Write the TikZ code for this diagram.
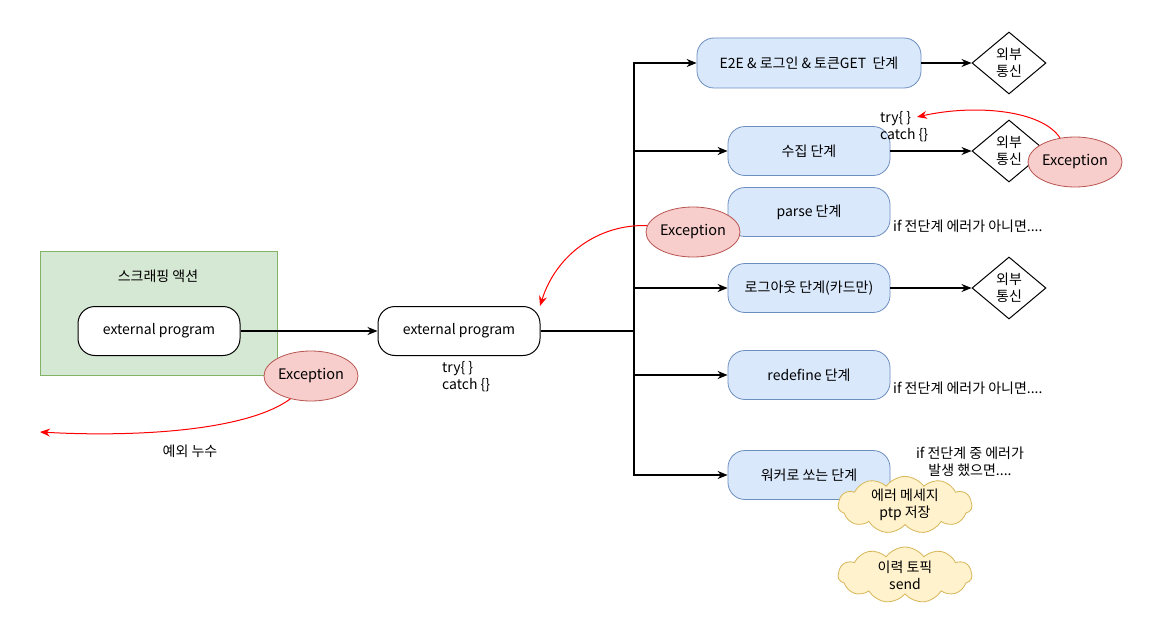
\documentclass[tikz,border=0pt]{standalone}
\usepackage{fontspec}
\setmainfont{Noto Sans CJK KR}
\usetikzlibrary{shapes.geometric,shapes.symbols,arrows.meta}
\definecolor{grfill}{HTML}{D5E8D4}
\definecolor{grline}{HTML}{82B366}
\definecolor{blfill}{HTML}{DAE8FC}
\definecolor{blline}{HTML}{6C8EBF}
\definecolor{rdfill}{HTML}{F8CECC}
\definecolor{rdline}{HTML}{B85450}
\definecolor{ylfill}{HTML}{FFF2CC}
\definecolor{ylline}{HTML}{D6B656}
\begin{document}
\begin{tikzpicture}[x=1pt,y=-1pt,
  font=\fontsize{14}{17}\selectfont,
  stagebox/.style={draw=blline, fill=blfill, rounded corners=17pt, minimum width=162pt, minimum height=49pt, inner sep=0pt, line width=0.8pt},
  progbox/.style={draw=black, fill=white, rounded corners=17pt, minimum width=162pt, minimum height=49pt, inner sep=0pt, line width=1pt},
  excnode/.style={ellipse, draw=rdline, fill=rdfill, minimum width=94pt, minimum height=50pt, inner sep=0pt, line width=0.8pt, font=\fontsize{14.5}{17}\selectfont},
  extnode/.style={diamond, draw=black, fill=white, minimum width=74pt, minimum height=62pt, inner sep=0pt, line width=1pt, align=center, font=\fontsize{14}{17}\selectfont},
  cloudnode/.style={cloud, cloud puffs=11, cloud puff arc=110, cloud ignores aspect, draw=ylline, fill=ylfill, minimum width=134pt, minimum height=56pt, inner sep=0pt, line width=0.8pt, align=center},
  conn/.style={line width=1.1pt, -{Stealth[length=10pt,width=8pt]}},
  redconn/.style={red, line width=1pt, -{Stealth[length=10pt,width=8pt]}},
  plain/.style={inner sep=0pt, align=left}
]
\useasboundingbox (0,0) rectangle (1149,634);

% green group
\node[draw=grline, fill=grfill, line width=0.8pt, minimum width=237pt, minimum height=124pt, inner sep=0pt] (grp) at (158.5,313) {};
\node[plain] (grptitle) at (158,276) {스크래핑 액션};
\node[progbox] (ext1) at (159,331) {external program};
\node[progbox] (ext2) at (459,331) {external program};
\node[plain, anchor=north west] (tc1) at (442,361) {try\{ \}\\catch \{\}};

\draw[conn] (ext1) -- (ext2);

% stages
\node[stagebox, minimum width=224pt, minimum height=50pt] (s1) at (809,63) {E2E \& 로그인 \& 토큰GET~ 단계};
\node[stagebox] (s2) at (809,151) {수집 단계};
\node[stagebox] (s3) at (809,212) {parse 단계};
\node[stagebox] (s4) at (809,288) {로그아웃 단계(카드만)};
\node[stagebox] (s5) at (809,375) {redefine 단계};
\node[stagebox] (s6) at (809,475) {워커로 쏘는 단계};

\coordinate (j) at (634,331);
\draw[line width=1.1pt] (ext2.east) -- (j);
\draw[conn] (j) |- (s1.west);
\draw[conn] (j) |- (s2.west);
\draw[conn] (j) |- (s4.west);
\draw[conn] (j) |- (s5.west);
\draw[conn] (j) |- (s6.west);

% external comm diamonds
\node[extnode] (d1) at (1009,63) {외부\\통신};
\node[extnode] (d2) at (1009,151) {외부\\통신};
\node[extnode] (d3) at (1009,288) {외부\\통신};
\draw[conn] (s1) -- (d1);
\draw[conn] (s2) -- (d2);
\draw[conn] (s4) -- (d3);

% notes
\node[plain, anchor=north west] (tc2) at (880,111) {try\{ \}\\catch \{\}};
\node[plain, anchor=west] (n3) at (893,226) {if 전단계 에러가 아니면....};
\node[plain, anchor=west] (n5) at (893,388) {if 전단계 에러가 아니면....};
\node[plain, align=center] (n6) at (970,462) {if 전단계 중 에러가\\발생 했으면....};

% exceptions
\node[excnode] (exc1) at (311,376) {Exception};
\node[excnode] (exc2) at (1075,162) {Exception};
\node[excnode] (exc3) at (693,232) {Exception};

\coordinate (leak) at (40,432);
\coordinate (tcarrow) at (917,117);
\coordinate (ext2top) at (540,306);

\draw[redconn] (exc1.228) .. controls (245,432) and (130,437) .. (leak);
\draw[redconn] (exc2.122) .. controls (1042,110) and (975,104) .. (tcarrow);
\draw[redconn] (exc3.172) .. controls (598,224) and (556,255) .. (ext2top);

\node[plain] (leaklbl) at (190,451) {예외 누수};

% clouds
\node[cloudnode] (c1) at (905,505) {에러 메세지\\ptp 저장};
\node[cloudnode] (c2) at (905,575) {이력 토픽\\send};
\end{tikzpicture}
\end{document}
